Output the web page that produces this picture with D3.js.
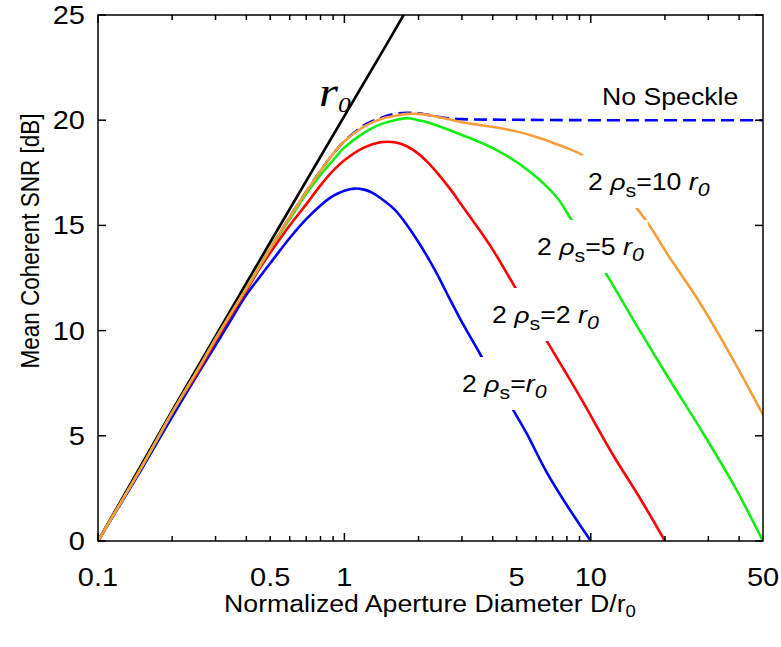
<!DOCTYPE html>
<html>
<head>
<meta charset="utf-8">
<script src="https://cdn.jsdelivr.net/npm/d3@7"></script>
<style>
  body { margin: 0; background: #fff; }
  svg { display: block; }
</style>
</head>
<body>
<svg id="chart" width="781" height="647"></svg>
<script>
// ---- axis ticks ----
const xTickLabels = [0.1, 0.5, 1, 5, 10, 50];
const xMajorTicks = [0.1, 1, 10];
const xMinorTicks = [0.2, 0.3, 0.4, 0.5, 0.6, 0.7, 0.8, 0.9, 2, 3, 4, 5, 6, 7, 8, 9, 20, 30, 40];
const yTickValues = [0, 5, 10, 15, 20, 25];

// ---- series: normalized aperture diameter D/r0 and mean coherent SNR [dB] ----
const r0D   = [0.1, 0.2, 0.5, 1.0, 1.5, 1.78];
const r0SNR = [0.0, 6.2, 14.2, 20.2, 23.7, 25.2];

const noSpeckleD   = [0.1, 0.15, 0.2, 0.25, 0.3, 0.35, 0.4, 0.45, 0.5, 0.6, 0.7, 0.8, 0.9, 1.0, 1.2, 1.4, 1.6, 1.8, 2.0, 2.3, 2.6, 3.0, 5.0, 10, 50];
const noSpeckleSNR = [0.0, 3.5, 6.1, 8.0, 9.6, 10.9, 12.0, 13.0, 13.9, 15.4, 16.6, 17.6, 18.4, 19.0, 19.75, 20.1, 20.3, 20.35, 20.33, 20.2, 20.1, 20.05, 20.02, 20.0, 20.0];

const rho1D   = [0.1, 0.15, 0.2, 0.25, 0.3, 0.35, 0.4, 0.45, 0.5, 0.6, 0.7, 0.8, 0.9, 1.0, 1.1, 1.2, 1.3, 1.4, 1.6, 1.8, 2.0, 2.2, 2.4, 2.65, 3.0, 3.55, 4.0, 4.5, 5.0, 5.5, 6.6, 8.0, 10.0];
const rho1SNR = [0.0, 3.4, 5.9, 7.8, 9.3, 10.6, 11.7, 12.5, 13.2, 14.4, 15.3, 15.95, 16.4, 16.65, 16.75, 16.7, 16.55, 16.3, 15.75, 15.0, 14.2, 13.4, 12.6, 11.6, 10.4, 8.9, 7.8, 6.85, 5.95, 5.1, 3.3, 1.7, 0.0];

const rho2D   = [0.1, 0.15, 0.2, 0.25, 0.3, 0.35, 0.4, 0.45, 0.5, 0.6, 0.7, 0.8, 0.9, 1.0, 1.2, 1.4, 1.6, 1.8, 2.0, 2.2, 2.4, 2.7, 3.0, 3.5, 4.0, 4.85, 6.6, 9.0, 12.3, 16.0, 20.0];
const rho2SNR = [0.0, 3.5, 6.1, 7.9, 9.5, 10.8, 11.9, 12.9, 13.7, 15.0, 16.0, 16.9, 17.6, 18.1, 18.7, 18.95, 18.95, 18.75, 18.4, 17.95, 17.45, 16.7, 15.95, 14.85, 13.85, 12.2, 9.55, 6.9, 4.1, 1.95, 0.0];

const rho5D   = [0.1, 0.15, 0.2, 0.25, 0.3, 0.35, 0.4, 0.45, 0.5, 0.6, 0.7, 0.8, 0.9, 1.0, 1.2, 1.4, 1.6, 1.8, 2.0, 2.2, 3.0, 4.15, 5.66, 7.25, 8.2, 11.4, 14.9, 20.3, 27.8, 37.9, 50];
const rho5SNR = [0.0, 3.5, 6.1, 8.0, 9.6, 10.9, 12.0, 13.0, 13.9, 15.3, 16.5, 17.4, 18.1, 18.7, 19.4, 19.8, 20.0, 20.1, 20.0, 19.88, 19.3, 18.58, 17.55, 16.36, 15.41, 12.8, 10.5, 7.9, 5.35, 2.7, 0.0];

const rho10D   = [0.1, 0.15, 0.2, 0.25, 0.3, 0.35, 0.4, 0.45, 0.5, 0.6, 0.7, 0.8, 0.9, 1.0, 1.2, 1.4, 1.6, 1.8, 2.0, 2.2, 3.0, 4.15, 5.66, 7.75, 9.5, 15.4, 18.2, 20.3, 27.8, 37.9, 50];
const rho10SNR = [0.0, 3.5, 6.1, 8.0, 9.6, 10.9, 12.0, 13.0, 13.9, 15.4, 16.6, 17.6, 18.4, 19.0, 19.7, 20.05, 20.2, 20.3, 20.3, 20.25, 19.9, 19.65, 19.3, 18.74, 18.25, 15.8, 14.6, 13.7, 11.3, 8.6, 6.0];

// ---- layout ----
const FONT = "'Liberation Sans', Arial, Helvetica, sans-serif";
const SERIF = "'Liberation Serif', 'Times New Roman', serif";
const SX = 1.16;          // horizontal glyph stretch used by all text
const svg = d3.select("#chart");
const plot = { left: 98, right: 763, top: 15, bottom: 541 };
const x = d3.scaleLog().domain([0.1, 50]).range([plot.left, plot.right]);
const y = d3.scaleLinear().domain([0, 25]).range([plot.bottom, plot.top]);

svg.append("defs").append("clipPath").attr("id", "plotClip")
  .append("rect")
  .attr("x", plot.left).attr("y", plot.top)
  .attr("width", plot.right - plot.left).attr("height", plot.bottom - plot.top);

function stretchedText(parent, px, py, size, anchor) {
  return parent.append("text")
    .attr("transform", `translate(${px},${py}) scale(${SX},1)`)
    .attr("text-anchor", anchor || "start")
    .style("font-family", FONT)
    .attr("font-size", size);
}

// ---- curves ----
const straight = d3.line().x(d => x(d[0])).y(d => y(d[1]));
const smooth = d3.line().x(d => x(d[0])).y(d => y(d[1])).curve(d3.curveCatmullRom.alpha(0.5));
const zip = (a, b) => a.map((v, i) => [v, b[i]]);
const curves = svg.append("g").attr("clip-path", "url(#plotClip)")
  .attr("fill", "none").attr("stroke-width", 2.6)
  .attr("stroke-linejoin", "round").attr("stroke-linecap", "butt");

curves.append("path").attr("d", straight(zip(r0D, r0SNR))).attr("stroke", "#000");
curves.append("path").attr("d", smooth(zip(noSpeckleD, noSpeckleSNR)))
  .attr("stroke", "#0000ff").attr("stroke-dasharray", "13,6");
curves.append("path").attr("d", smooth(zip(rho1D, rho1SNR))).attr("stroke", "#0000ff");
curves.append("path").attr("d", smooth(zip(rho2D, rho2SNR))).attr("stroke", "#ff0000");
curves.append("path").attr("d", smooth(zip(rho5D, rho5SNR))).attr("stroke", "#11ee11");
curves.append("path").attr("d", smooth(zip(rho10D, rho10SNR))).attr("stroke", "#f99d3a");

// ---- curve labels: 2ρs = k r0, each on a white patch ----
const curveLabels = [
  { k: "10 ", px: 588, py: 190 },
  { k: "5 ",  px: 537, py: 255 },
  { k: "2 ",  px: 492, py: 323 },
  { k: "",    px: 462, py: 392 }
];
const labelSize = 23;
curveLabels.forEach(l => {
  const g = svg.append("g");
  const bg = g.append("rect").attr("fill", "#fff");
  const t = stretchedText(g, l.px, l.py, labelSize);
  t.append("tspan").text("2 ");
  t.append("tspan").attr("font-style", "italic").text("ρ");
  t.append("tspan").attr("font-size", 0.8 * labelSize).attr("dy", 7).text("s");
  t.append("tspan").attr("dy", -7).text("=" + l.k);
  t.append("tspan").attr("font-style", "italic").text("r");
  t.append("tspan").attr("font-style", "italic").attr("font-size", 0.8 * labelSize).attr("dy", 6).text("0");
  const b = t.node().getBBox();
  bg.attr("x", l.px + b.x * SX - 6)
    .attr("y", l.py - 35)
    .attr("width", b.width * SX + 10)
    .attr("height", 53);
});

stretchedText(svg, 602, 105, 23).text("No Speckle");

// r0 marker next to the black line
const r0Label = svg.append("text")
  .attr("transform", `translate(319,106) scale(${SX},1)`)
  .style("font-family", SERIF)
  .attr("font-style", "italic");
r0Label.append("tspan").attr("font-size", 42).text("r");
r0Label.append("tspan").attr("font-size", 22).attr("dy", 6).text("0");

// ---- frame and ticks ----
const axes = svg.append("g").attr("stroke", "#000").attr("stroke-width", 1.5);
axes.append("rect")
  .attr("x", plot.left).attr("y", plot.top)
  .attr("width", plot.right - plot.left).attr("height", plot.bottom - plot.top)
  .attr("fill", "none");

function xTick(v, len) {
  axes.append("line").attr("x1", x(v)).attr("x2", x(v))
    .attr("y1", plot.bottom).attr("y2", plot.bottom - len);
  axes.append("line").attr("x1", x(v)).attr("x2", x(v))
    .attr("y1", plot.top).attr("y2", plot.top + len);
}
xMajorTicks.forEach(v => xTick(v, 8));
xMinorTicks.forEach(v => xTick(v, 5));
yTickValues.forEach(v => {
  axes.append("line").attr("x1", plot.left).attr("x2", plot.left + 8)
    .attr("y1", y(v)).attr("y2", y(v));
  axes.append("line").attr("x1", plot.right).attr("x2", plot.right - 8)
    .attr("y1", y(v)).attr("y2", y(v));
});

// tick labels
xTickLabels.forEach(v => stretchedText(svg, x(v), 586, 25, "middle").text(String(v)));
yTickValues.forEach(v => stretchedText(svg, 85, y(v) + 9, 25, "end").text(String(v)));

// axis titles
const xTitle = stretchedText(svg, 430, 612, 23, "middle");
xTitle.append("tspan").text("Normalized Aperture Diameter D/r");
xTitle.append("tspan").attr("font-size", 16).attr("dy", 5).text("0");

svg.append("text")
  .attr("transform", `translate(39,241) scale(${SX},1) rotate(-90)`)
  .attr("text-anchor", "middle").attr("font-size", 22.5)
  .style("font-family", FONT)
  .text("Mean Coherent SNR [dB]");
</script>
</body>
</html>
